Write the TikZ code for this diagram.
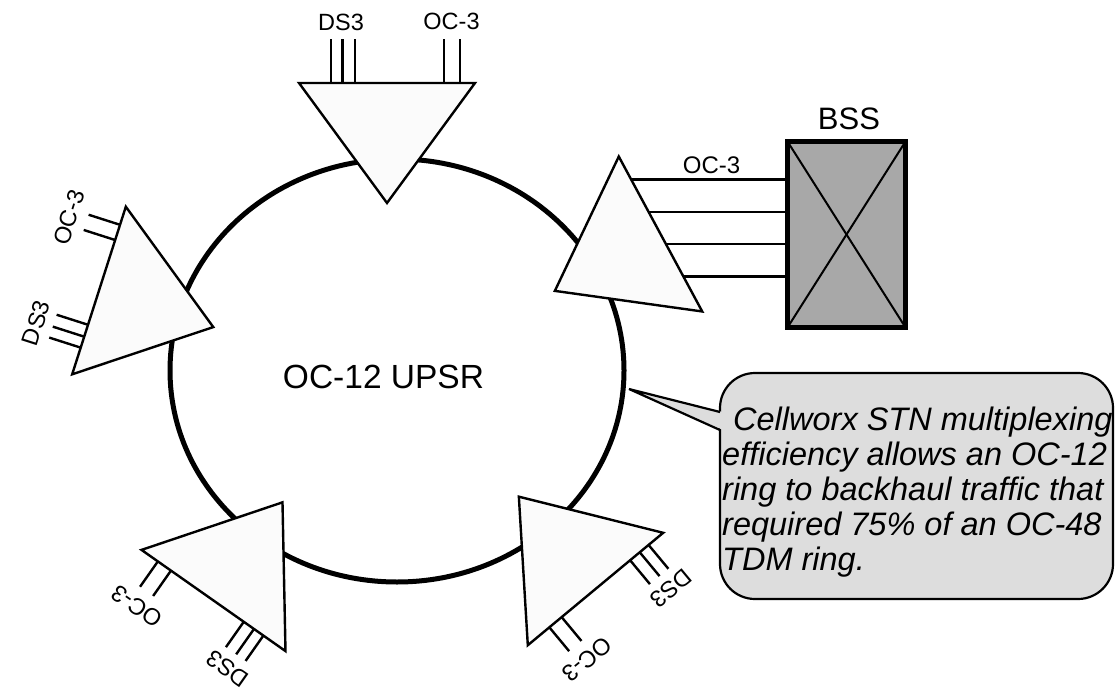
\documentclass[tikz,border=0pt]{standalone}
\usepackage{fontspec}
\setmainfont{Liberation Sans}
\usetikzlibrary{calc}
\definecolor{trifill}{RGB}{251,251,251}
\definecolor{bssfill}{RGB}{168,168,168}
\definecolor{callfill}{RGB}{221,221,221}
\tikzset{
  ring/.style={line width=5pt},
  muxtri/.style={draw=black, fill=trifill, line width=2.4pt, line join=miter},
  port/.style={line width=2.4pt},
  plabel/.style={font=\fontsize{23.5}{26}\selectfont, inner sep=0pt, transform shape},
  bssbox/.style={draw=black, fill=bssfill, line width=5pt, minimum width=118pt, minimum height=186pt, outer sep=0pt, inner sep=0pt},
  thin/.style={line width=2pt},
  callout/.style={draw=black, fill=callfill, line width=2.2pt},
}
\newcommand\muxtriangle[3]{%
  \begin{scope}[shift={#2}, rotate=#3]
    \coordinate (#1l) at (-88,0);
    \coordinate (#1r) at (88,0);
    \coordinate (#1t) at (0,-120);
    \filldraw[muxtri] (#1l) -- (#1r) -- (#1t) -- cycle;
  \end{scope}}
% #1 name, #2 shift, #3 rotation, #4 port length, #5 offset along base
\newcommand\muxports[5]{%
  \begin{scope}[shift={#2}, rotate=#3, xshift=#5]
    \foreach \px [count=\i] in {-56,-44.5,-32,57,73}{
      \coordinate (#1a\i) at (\px,0);
      \coordinate (#1b\i) at (\px,#4);
      \draw[port] (#1a\i) -- (#1b\i);
    }
    \node[plabel] (#1ds) at (-46,#4+17) {DS3};
    \node[plabel] (#1oc) at (64.5,#4+18) {OC-3};
  \end{scope}}
\begin{document}
\begin{tikzpicture}[x=1pt,y=1pt]
\useasboundingbox (0,0) rectangle (1115,-690);
% ring
\coordinate (ringc) at (397,-370.5);
\draw[ring] (ringc) ellipse [x radius=227, y radius=211.5];
\node[font=\fontsize{33.5}{36}\selectfont, inner sep=0pt] (ringlabel) at (383.5,-377) {OC-12 UPSR};
% multiplexers
\muxports{T}{(387,-83)}{0}{44}{0pt}
\muxtriangle{T}{(387,-83)}{0}
\muxports{L}{(99,-290.5)}{72.25}{33}{-4pt}
\muxtriangle{L}{(99,-290.5)}{72.25}
\muxports{BL}{(213.5,-600.5)}{144.9}{31}{-5pt}
\muxtriangle{BL}{(213.5,-600.5)}{144.9}
\muxports{BR}{(595.5,-589)}{219.7}{31}{-13pt}
\muxtriangle{BR}{(595.5,-589)}{219.7}
\muxtriangle{R}{(660.5,-234)}{-61.7}
% BSS
\node[bssbox] (bss) at (846.5,-234.5) {};
\draw[thin] (bss.north west) -- (bss.south east);
\draw[thin] (bss.south west) -- (bss.north east);
\node[font=\fontsize{31}{34}\selectfont, inner sep=0pt] (bsslabel) at (849,-119) {BSS};
\foreach \t [count=\i] in {0.149,0.357,0.565,0.773}{
  \coordinate (rp\i) at ($(Rl)!\t!(Rr)$);
  \draw[port] (rp\i) -- (rp\i -| bss.west);
}
\node[font=\fontsize{24}{26}\selectfont, inner sep=0pt] (rlabel) at (711.5,-165.5) {OC-3};
% callout
\draw[callout, rounded corners=35pt] (720,-373) rectangle (1113,-599);
\coordinate (ptip) at (629,-389);
\coordinate (pa) at (720,-412);
\coordinate (pb) at (720,-430);
\fill[callfill] (ptip) -- ($(pa)+(3,0)$) -- ($(pb)+(3,0)$) -- cycle;
\draw[callout, fill=none, line join=miter] (pa) -- (ptip) -- (pb);
\node[anchor=base west, inner sep=0pt, font=\fontsize{32.5}{35}\selectfont\itshape] (calltext) at (722,-430)
 {\begin{tabular}[t]{@{}l@{}}\hspace*{11pt}Cellworx STN multiplexing\\ efficiency allows an OC-12\\ ring to backhaul traffic that\\ required 75\% of an OC-48\\ TDM ring.\end{tabular}};
\end{tikzpicture}
\end{document}
